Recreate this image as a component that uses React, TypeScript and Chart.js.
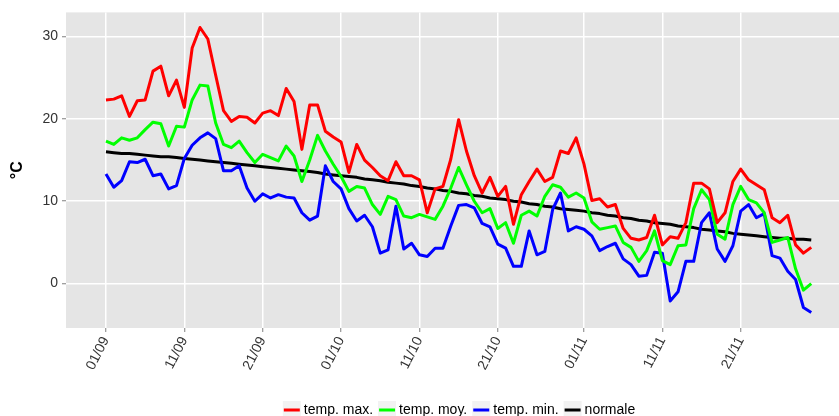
import React, { useEffect, useRef } from 'react';
import { Chart, registerables } from 'chart.js';

Chart.register(...registerables);

// x tick positions (day index from 01/09) and their labels
const TICK_DAYS = [0, 10, 20, 30, 40, 50, 61, 71, 81];
const TICK_LABELS = ['01/09', '11/09', '21/09', '01/10', '11/10', '21/10', '01/11', '11/11', '21/11'];
const Y_TICKS = [0, 10, 20, 30];

const SERIES_NAMES = ['temp. max.', 'temp. moy.', 'temp. min.', 'normale'];
const SERIES_COLORS = ['#FF0000', '#00FF00', '#0000FF', '#000000'];

// daily values, 01/09 .. 30/11
const T_MAX = [
  22.3, 22.4, 22.8, 20.3, 22.2, 22.3, 25.8, 26.4, 22.8, 24.7, 21.4, 28.6, 31.1, 29.7, 25.3, 21.0,
  19.7, 20.3, 20.2, 19.5, 20.7, 21.0, 20.4, 23.7, 22.1, 16.3, 21.7, 21.7, 18.5, 17.8, 17.2,
  13.5, 16.9, 15.0, 14.1, 13.1, 12.5, 14.8, 13.1, 13.1, 12.6, 8.6, 11.5, 11.8, 15.1, 19.9, 16.1,
  13.1, 11.0, 12.9, 10.6, 11.8, 7.2, 10.8, 12.4, 13.9, 12.4, 12.9, 16.1, 15.8, 17.7, 14.5,
  10.1, 10.3, 9.3, 9.6, 6.7, 5.5, 5.3, 5.6, 8.3, 4.7, 5.7, 5.5, 7.4, 12.2, 12.2,
  11.5, 7.4, 8.6, 12.4, 13.9, 12.6, 12.0, 11.4, 8.0, 7.4, 8.3, 4.7, 3.7, 4.4,
];
const T_MOY = [
  17.3, 16.9, 17.7, 17.4, 17.7, 18.7, 19.6, 19.4, 16.7, 19.1, 19.0, 22.3, 24.1, 24.0, 19.5, 16.9,
  16.5, 17.3, 15.9, 14.7, 15.7, 15.3, 14.9, 16.7, 15.5, 12.4, 15.0, 18.0, 16.1, 14.5, 13.0,
  11.2, 11.8, 11.6, 9.6, 8.4, 10.6, 10.2, 8.2, 8.0, 8.4, 8.1, 7.8, 9.4, 11.6, 14.1, 12.0,
  10.0, 8.6, 9.1, 6.7, 7.4, 4.9, 8.3, 8.8, 8.2, 10.6, 12.0, 11.7, 10.5, 11.0, 10.4,
  7.5, 6.6, 6.8, 7.0, 5.0, 4.4, 2.7, 4.0, 6.4, 2.8, 2.3, 4.6, 4.7, 9.1, 11.4,
  10.2, 6.0, 5.4, 9.6, 11.8, 10.2, 9.8, 8.6, 5.0, 5.3, 5.6, 1.8, -0.8, 0.0,
];
const T_MIN = [
  13.3, 11.7, 12.5, 14.8, 14.7, 15.1, 13.1, 13.3, 11.5, 11.9, 15.2, 16.8, 17.7, 18.3, 17.6, 13.7,
  13.7, 14.3, 11.6, 10.0, 10.9, 10.4, 10.8, 10.5, 10.4, 8.6, 7.7, 8.2, 14.3, 12.4, 11.5,
  9.1, 7.6, 8.3, 6.9, 3.7, 4.1, 9.4, 4.2, 4.9, 3.5, 3.3, 4.3, 4.3, 7.0, 9.5, 9.6,
  9.2, 7.3, 6.9, 4.8, 4.3, 2.1, 2.1, 6.4, 3.5, 3.9, 9.0, 11.0, 6.4, 6.9, 6.6,
  5.8, 4.0, 4.5, 4.9, 3.0, 2.3, 0.9, 1.0, 3.8, 3.7, -2.1, -1.0, 2.7, 2.7, 7.4,
  8.6, 4.2, 2.7, 4.6, 8.8, 9.6, 8.0, 8.5, 3.4, 3.1, 1.5, 0.5, -2.9, -3.5,
];
const T_NORMALE = [
  16.0, 15.9, 15.8, 15.8, 15.7, 15.6, 15.5, 15.4, 15.4, 15.3,
  15.2, 15.1, 15.0, 14.9, 14.8, 14.7, 14.6, 14.5, 14.4, 14.3,
  14.2, 14.1, 14.0, 13.9, 13.8, 13.7, 13.6, 13.5, 13.3, 13.2,
  13.1, 13.0, 12.9, 12.7, 12.6, 12.5, 12.3, 12.2, 12.1, 11.9,
  11.8, 11.6, 11.5, 11.3, 11.2, 11.0, 10.9, 10.7, 10.6, 10.4,
  10.3, 10.2, 10.0, 9.9, 9.7, 9.6, 9.4, 9.3, 9.1, 9.0, 8.9,
  8.8, 8.6, 8.5, 8.3, 8.2, 8.0, 7.9, 7.7, 7.6, 7.4,
  7.3, 7.2, 7.0, 6.9, 6.8, 6.6, 6.5, 6.4, 6.3, 6.1,
  6.0, 5.9, 5.8, 5.7, 5.6, 5.5, 5.5, 5.4, 5.4, 5.3,
];

const FONT = '"Liberation Sans", Arial, Helvetica, sans-serif';

const panelBg = {
  id: 'panelBg',
  beforeDraw(chart: any) {
    const { ctx, chartArea } = chart;
    const { left, top, right, bottom } = chartArea;
    ctx.save();
    ctx.fillStyle = '#E5E5E5';
    ctx.fillRect(left, top, right - left, bottom - top);
    ctx.restore();
  },
};

const ggLegend = {
  id: 'ggLegend',
  afterDraw(chart: any) {
    const ctx = chart.ctx;
    ctx.save();
    ctx.font = `14px ${FONT}`;
    const keyW = 18;
    const gapKT = 3;
    const gapTK = 5;
    const items = chart.data.datasets.map((ds: any) => ({
      label: ds.label,
      color: ds.borderColor,
      w: ctx.measureText(ds.label).width,
    }));
    const total =
      items.reduce((s: number, it: any) => s + keyW + gapKT + it.w, 0) + gapTK * (items.length - 1);
    let x = 459 - total / 2;
    const yMid = 410;
    for (const it of items) {
      ctx.fillStyle = '#F2F2F2';
      ctx.fillRect(x, yMid - 9, keyW, 18);
      ctx.strokeStyle = it.color;
      ctx.lineWidth = 3;
      ctx.beginPath();
      ctx.moveTo(x + 1, yMid);
      ctx.lineTo(x + keyW - 1, yMid);
      ctx.stroke();
      ctx.fillStyle = '#000000';
      ctx.textBaseline = 'middle';
      ctx.textAlign = 'left';
      ctx.fillText(it.label, x + keyW + gapKT, yMid);
      x += keyW + gapKT + it.w + gapTK;
    }
    ctx.restore();
  },
};

export default function App() {
  const ref = useRef<HTMLCanvasElement>(null);

  useEffect(() => {
    const canvas = ref.current;
    if (!canvas) return;
    const seriesValues = [T_MAX, T_MOY, T_MIN, T_NORMALE];
    const chart = new Chart(canvas, {
      type: 'line',
      data: {
        datasets: seriesValues.map((vals, k) => ({
          label: SERIES_NAMES[k],
          data: vals.map((v, i) => ({ x: i, y: v })),
          borderColor: SERIES_COLORS[k],
          backgroundColor: SERIES_COLORS[k],
          borderWidth: 3,
          pointRadius: 0,
          tension: 0,
          fill: false,
          borderJoinStyle: 'round',
        })),
      },
      options: {
        animation: false,
        responsive: false,
        devicePixelRatio: 1,
        layout: { padding: { top: 10, left: 0, right: 0, bottom: 0 } },
        plugins: {
          legend: { display: false },
          title: { display: false },
          tooltip: { enabled: false },
        },
        scales: {
          x: {
            type: 'linear',
            min: -5.1,
            max: 93.54,
            afterBuildTicks: (scale: any) => {
              scale.ticks = TICK_DAYS.map((v) => ({ value: v }));
            },
            afterFit: (scale: any) => {
              scale.height = 88;
            },
            grid: {
              color: '#FFFFFF',
              lineWidth: 1.5,
              tickColor: '#7F7F7F',
              tickLength: 4,
              tickWidth: 1,
            },
            border: { display: false },
            ticks: {
              autoSkip: false,
              minRotation: 63,
              maxRotation: 63,
              padding: 2,
              color: '#333333',
              font: { family: FONT, size: 14 },
              callback: (value: any) => {
                const idx = TICK_DAYS.indexOf(Number(value));
                return idx >= 0 ? TICK_LABELS[idx] : '';
              },
            },
          },
          y: {
            type: 'linear',
            min: -5.39,
            max: 32.93,
            afterBuildTicks: (scale: any) => {
              scale.ticks = Y_TICKS.map((v) => ({ value: v }));
            },
            afterFit: (scale: any) => {
              scale.width = 66;
            },
            grid: {
              color: '#FFFFFF',
              lineWidth: 1.5,
              tickColor: '#7F7F7F',
              tickLength: 4,
              tickWidth: 1,
            },
            border: { display: false },
            ticks: {
              padding: 4,
              color: '#333333',
              font: { family: FONT, size: 14 },
            },
            title: {
              display: true,
              text: '°C',
              color: '#000000',
              font: { family: FONT, size: 16, weight: 'bold' },
              padding: { top: 8, bottom: 0 },
            },
          },
        },
      },
      plugins: [panelBg, ggLegend],
    } as any);
    return () => chart.destroy();
  }, []);

  return (
    <div style={{ position: 'absolute', left: 0, top: 0, width: 839, height: 416, background: '#FFFFFF' }}>
      <canvas ref={ref} width={839} height={416} style={{ width: 839, height: 416, display: 'block' }} />
    </div>
  );
}
